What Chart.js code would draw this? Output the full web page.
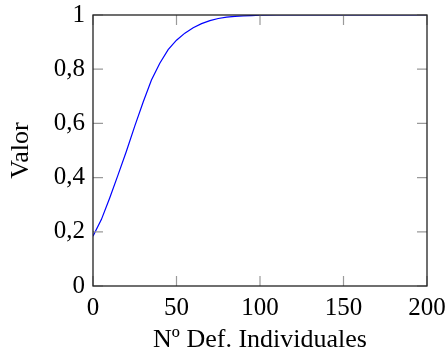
<!DOCTYPE html>
<html>
<head>
<meta charset="utf-8">
<script src="https://cdn.jsdelivr.net/npm/chart.js@4/dist/chart.umd.min.js"></script>
<style>
  html, body { margin: 0; padding: 0; background: #fff; }
  #wrap { width: 446px; height: 354px; }
</style>
</head>
<body>
<div id="wrap"><canvas id="c" width="446" height="354"></canvas></div>
<script>
// values
var defects = [0, 5, 10, 15, 20, 25, 30, 35, 40, 45, 50, 55, 60, 65, 70, 75, 80, 85, 90, 95, 100,
  110, 120, 130, 140, 150, 160, 170, 180, 190, 200];
var values = [0.184, 0.245, 0.325, 0.41, 0.497, 0.59, 0.678, 0.76, 0.822, 0.872, 0.907, 0.933, 0.953,
  0.968, 0.979, 0.987, 0.992, 0.995, 0.997, 0.998, 0.999, 1, 1, 1, 1, 1, 1, 1, 1, 1, 1];
var xTicks = [0, 50, 100, 150, 200];
var yTicks = [0, 0.2, 0.4, 0.6, 0.8, 1];

var points = defects.map(function(d, i) { return {x: d, y: values[i]}; });
var serif = "'Liberation Serif', 'DejaVu Serif', serif";

function fmt(v) {
  return String(Math.round(v * 10) / 10).replace('.', ',');
}

// pgfplots-like ticks: inside the box, on all four sides
var innerTicks = {
  id: 'innerTicks',
  afterDatasetsDraw: function(chart) {
    var ctx = chart.ctx, a = chart.chartArea;
    var xs = chart.scales.x, ys = chart.scales.y;
    var len = 10;
    ctx.save();
    ctx.strokeStyle = '#9a9a9a';
    ctx.lineWidth = 1.2;
    ctx.beginPath();
    xTicks.forEach(function(t) {
      var px = xs.getPixelForValue(t);
      ctx.moveTo(px, a.bottom); ctx.lineTo(px, a.bottom - len);
      ctx.moveTo(px, a.top); ctx.lineTo(px, a.top + len);
    });
    yTicks.forEach(function(t) {
      var py = ys.getPixelForValue(t);
      ctx.moveTo(a.left, py); ctx.lineTo(a.left + len, py);
      ctx.moveTo(a.right, py); ctx.lineTo(a.right - len, py);
    });
    ctx.stroke();
    ctx.strokeStyle = '#222';
    ctx.lineWidth = 1.3;
    ctx.strokeRect(a.left, a.top, a.right - a.left, a.bottom - a.top);
    ctx.restore();
  }
};

new Chart(document.getElementById('c'), {
  type: 'line',
  data: {
    datasets: [{
      data: points,
      borderColor: '#0000ff',
      borderWidth: 1.2,
      pointRadius: 0,
      tension: 0,
      fill: false
    }]
  },
  options: {
    responsive: false,
    animation: false,
    layout: { padding: { top: 15, right: 19, left: 0, bottom: 0 } },
    plugins: { legend: { display: false }, tooltip: { enabled: false } },
    scales: {
      x: {
        type: 'linear', min: 0, max: 200,
        afterBuildTicks: function(s) { s.ticks = xTicks.map(function(v) { return {value: v}; }); },
        afterFit: function(s) { s.height = 68; s.paddingLeft = 0; s.paddingRight = 0; },
        grid: { display: false, drawTicks: false },
        border: { display: false },
        ticks: { color: '#000', padding: 7, maxRotation: 0, font: { family: serif, size: 25 },
          callback: function(v) { return fmt(v); } },
        title: { display: true, text: 'Nº Def. Individuales', color: '#000', padding: { top: 0, bottom: -2 },
          font: { family: serif, size: 26 } }
      },
      y: {
        type: 'linear', min: 0, max: 1,
        afterBuildTicks: function(s) { s.ticks = yTicks.map(function(v) { return {value: v}; }); },
        afterFit: function(s) { s.width = 93; s.paddingTop = 0; s.paddingBottom = 0; },
        grid: { display: false, drawTicks: false },
        border: { display: false },
        ticks: { color: '#000', padding: 8, font: { family: serif, size: 25 },
          callback: function(v) { return fmt(v); } },
        title: { display: true, text: 'Valor', color: '#000', padding: { top: 6, bottom: 0 },
          font: { family: serif, size: 26 } }
      }
    }
  },
  plugins: [innerTicks]
});
</script>
</body>
</html>
